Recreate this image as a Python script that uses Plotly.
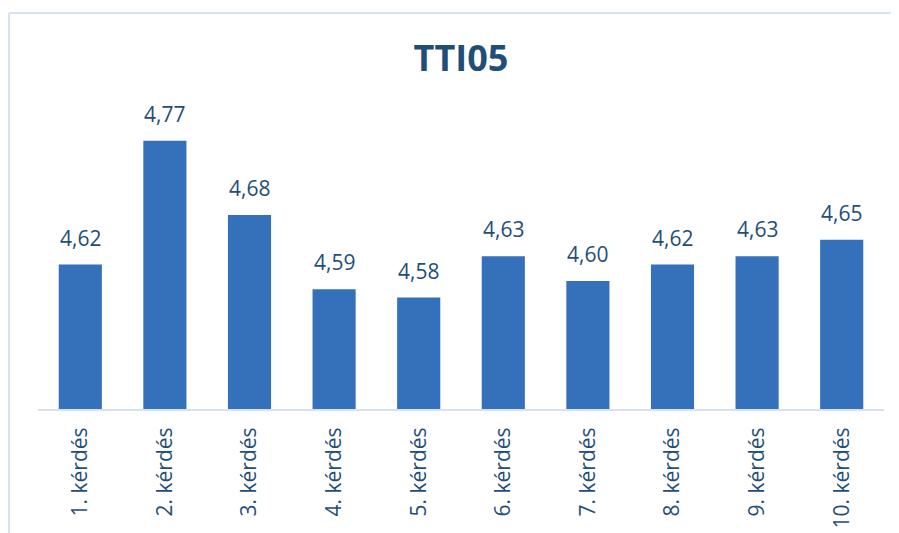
import plotly.graph_objects as go

categories = ["1. kérdés", "2. kérdés", "3. kérdés", "4. kérdés", "5. kérdés",
              "6. kérdés", "7. kérdés", "8. kérdés", "9. kérdés", "10. kérdés"]
values = [4.62, 4.77, 4.68, 4.59, 4.58, 4.63, 4.60, 4.62, 4.63, 4.65]
labels = [f"{v:.2f}".replace(".", ",") for v in values]
title_text = "TTI05"

TEXT_COLOR = "#1f4e79"
BAR_COLOR = "#3570ba"
FRAME_COLOR = "#d6e1f2"
FONT = "Open Sans"

W, H = 899, 533
ML, MR, MT, MB = 30, 23, 108, 132
plot_w = W - ML - MR
plot_h = H - MT - MB

fig = go.Figure()
fig.add_trace(go.Bar(
    x=categories, y=values,
    marker=dict(color=BAR_COLOR, line=dict(width=0)),
    hoverinfo="x+y",
))

for c, v, t in zip(categories, values, labels):
    fig.add_annotation(x=c, y=v, text=t, showarrow=False, yanchor="bottom",
                       yshift=11, font=dict(family=FONT, size=21, color=TEXT_COLOR))

# outer chart frame (light blue): only the left and top edges are in view
fx0 = (1 - ML) / plot_w
fy1 = (H - MB - 5) / plot_h
frame = dict(color=FRAME_COLOR, width=2)
fig.add_shape(type="line", xref="paper", yref="paper",
              x0=fx0, x1=fx0, y0=-1.0, y1=fy1, line=frame, layer="below")
fig.add_shape(type="line", xref="paper", yref="paper",
              x0=fx0, x1=1.5, y0=fy1, y1=fy1, line=frame, layer="below")

fig.update_layout(
    width=W, height=H,
    margin=dict(l=ML, r=MR, t=MT, b=MB),
    paper_bgcolor="white", plot_bgcolor="white",
    bargap=0.49,
    showlegend=False,
    title=dict(text=f"<b>{title_text}</b>", x=0.5, xref="paper",
               y=1 - 50 / H, yref="container", xanchor="center", yanchor="middle",
               font=dict(family=FONT, size=36, color=TEXT_COLOR)),
    xaxis=dict(
        type="category", tickangle=-90, showgrid=False, zeroline=False,
        showline=True, linecolor=FRAME_COLOR, linewidth=2,
        ticks="", ticklabelstandoff=8,
        tickfont=dict(family=FONT, size=21, color=TEXT_COLOR),
    ),
    yaxis=dict(range=[4.445, 4.80], visible=False, showgrid=False, zeroline=False),
)

fig.write_html("out.html", post_script="document.body.style.overflow='hidden';")
